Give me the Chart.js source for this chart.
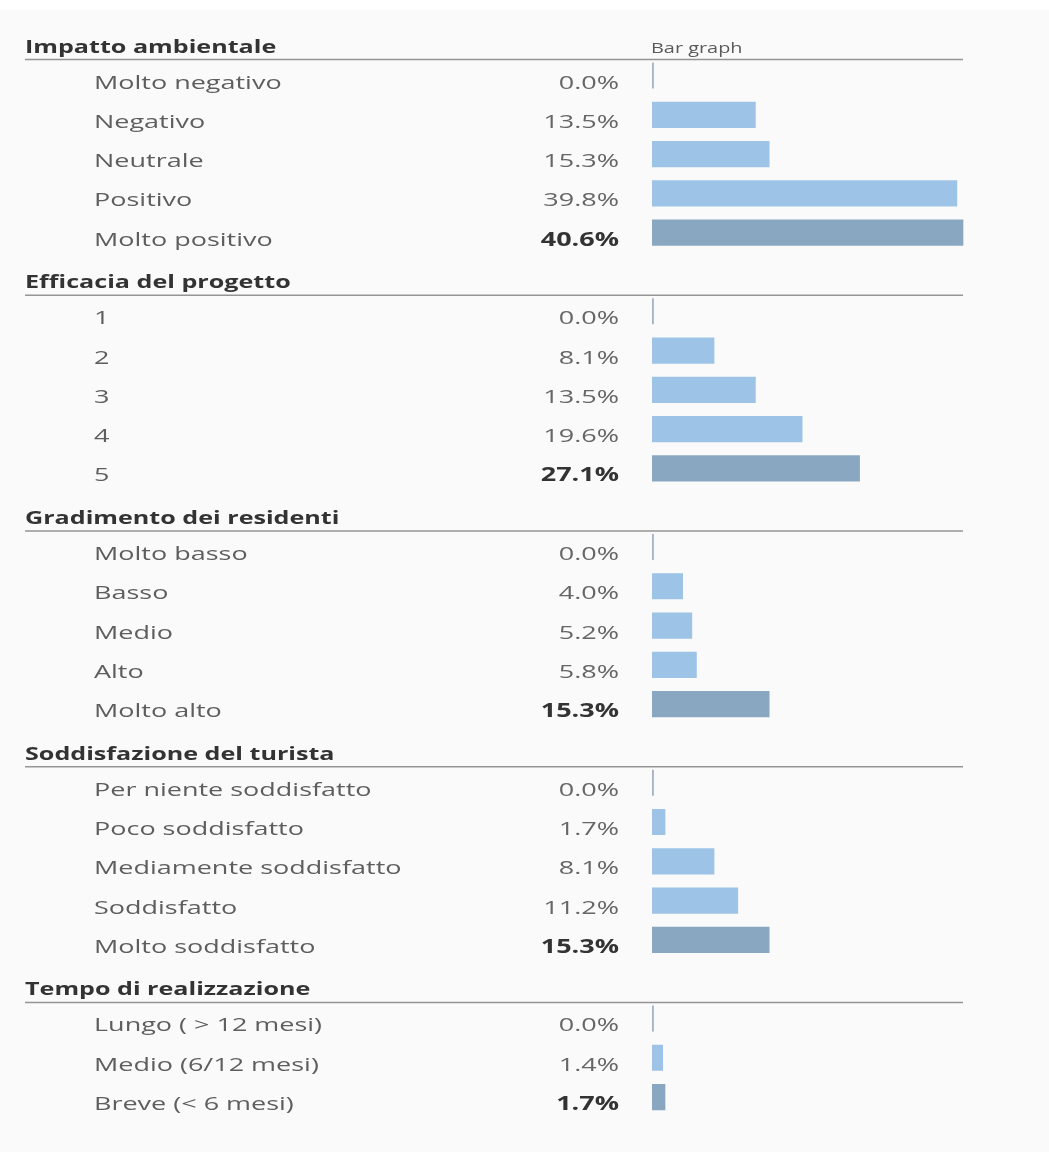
<!DOCTYPE html>
<html>
<head>
<meta charset="utf-8">
<script src="https://cdn.jsdelivr.net/npm/chart.js@4"></script>
<style>
    html, body { margin: 0; padding: 0; }
    body { background: linear-gradient(#ffffff 0 10px, #fafafa 10px); width: 1049px; height: 1152px; overflow: hidden; }
    #wrap { position: absolute; left: 0; top: 0; width: 1049px; height: 1152px; }
</style>
</head>
<body>
<div id="wrap"><canvas id="surveyChart" width="1049" height="1152"></canvas></div>
<script>
const groupTitles = ['Impatto ambientale', 'Efficacia del progetto', 'Gradimento dei residenti', 'Soddisfazione del turista', 'Tempo di realizzazione'];

const impattoLabels = ['Molto negativo', 'Negativo', 'Neutrale', 'Positivo', 'Molto positivo'];
const impattoValues = [0.0, 13.5, 15.3, 39.8, 40.6];

const efficaciaLabels = ['1', '2', '3', '4', '5'];
const efficaciaValues = [0.0, 8.1, 13.5, 19.6, 27.1];

const gradimentoLabels = ['Molto basso', 'Basso', 'Medio', 'Alto', 'Molto alto'];
const gradimentoValues = [0.0, 4.0, 5.2, 5.8, 15.3];

const soddisfazioneLabels = ['Per niente soddisfatto', 'Poco soddisfatto', 'Mediamente soddisfatto', 'Soddisfatto', 'Molto soddisfatto'];
const soddisfazioneValues = [0.0, 1.7, 8.1, 11.2, 15.3];

const tempoLabels = ['Lungo ( > 12 mesi)', 'Medio (6/12 mesi)', 'Breve (< 6 mesi)'];
const tempoValues = [0.0, 1.4, 1.7];

const columnTitle = 'Bar graph';
const xTicks = [0, 10, 20, 30, 40, 50];

// rows = header rows + item rows, one category each
const groups = [
    [impattoLabels, impattoValues],
    [efficaciaLabels, efficaciaValues],
    [gradimentoLabels, gradimentoValues],
    [soddisfazioneLabels, soddisfazioneValues],
    [tempoLabels, tempoValues]
];
const rows = [];
groups.forEach(([labels, values], g) => {
    rows.push({ header: true, text: groupTitles[g] });
    const top = Math.max(...values);
    labels.forEach((label, i) => rows.push({ header: false, text: label, value: values[i], top: values[i] === top }));
});

const LIGHT = '#9dc3e6';
const DARK = '#8aa7c2';
const ZERO = '#a3b3c3';
const STRETCH = 1.42;   // text in the picture is drawn wider than the font

function wideText(ctx, text, x, y, font, color, align) {
    ctx.save();
    ctx.font = font;
    ctx.fillStyle = color;
    ctx.textAlign = align || 'left';
    ctx.textBaseline = 'alphabetic';
    ctx.translate(x, y);
    ctx.scale(STRETCH, 1);
    ctx.fillText(text, 0, 0);
    ctx.restore();
}

const tableText = {
    id: 'tableText',
    afterDatasetsDraw(chart) {
        const ctx = chart.ctx;
        const yScale = chart.scales.y;
        const xScale = chart.scales.x;
        const lineEnd = xScale.getPixelForValue(40.6);
        rows.forEach((row, i) => {
            const y = yScale.getPixelForValue(i);
            if (row.header) {
                wideText(ctx, row.text, 25, y + 16.3, 'bold 17.7px "Open Sans"', '#333333');
                if (i === 0) wideText(ctx, columnTitle, 651, y + 16.3, '14px "Open Sans"', '#5a5a5a');
                ctx.save();
                ctx.strokeStyle = '#959595';
                ctx.lineWidth = 1.5;
                ctx.beginPath();
                ctx.moveTo(25, y + 23.3);
                ctx.lineTo(lineEnd, y + 23.3);
                ctx.stroke();
                ctx.restore();
            } else {
                wideText(ctx, row.text, 94, y + 13, '19px "Open Sans"', '#5e5e5e');
                const valueFont = row.top ? 'bold 19px "Open Sans"' : '19px "Open Sans"';
                wideText(ctx, row.value.toFixed(1) + '%', 619, y + 13, valueFont, row.top ? '#333333' : '#666666', 'right');
            }
        });
    }
};

new Chart(document.getElementById('surveyChart'), {
    type: 'bar',
    data: {
        labels: rows.map(r => r.text),
        datasets: [{
            data: rows.map(r => (r.header ? null : r.value)),
            backgroundColor: ctx => {
                const row = rows[ctx.dataIndex];
                if (!row || row.header) return LIGHT;
                if (row.value === 0) return ZERO;
                return row.top ? DARK : LIGHT;
            },
            barThickness: 25.5,
            minBarLength: 1.5,
            borderWidth: 0
        }]
    },
    plugins: [tableText],
    options: {
        indexAxis: 'y',
        responsive: false,
        animation: false,
        layout: { padding: { left: 652, right: 14, top: 16.6, bottom: 35.3 } },
        plugins: {
            legend: { display: false },
            tooltip: { enabled: false }
        },
        scales: {
            x: {
                display: false,
                min: xTicks[0],
                max: xTicks[xTicks.length - 1],
                grid: { display: false }
            },
            y: {
                display: false,
                grid: { display: false }
            }
        }
    }
});
</script>
</body>
</html>
